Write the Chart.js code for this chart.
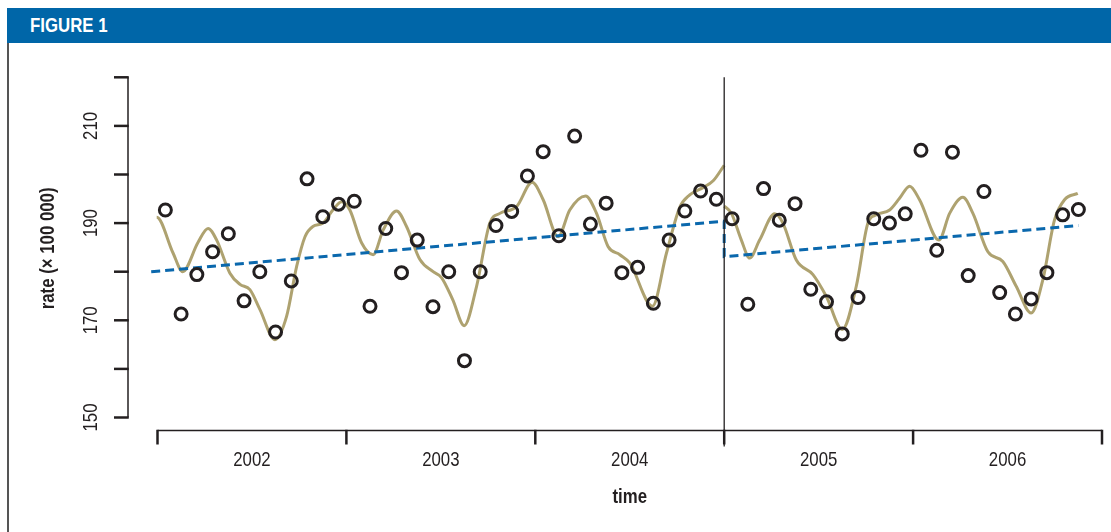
<!DOCTYPE html>
<html>
<head>
<meta charset="utf-8">
<script src="https://cdn.jsdelivr.net/npm/chart.js@4.4.1/dist/chart.umd.min.js"></script>
<style>
  body { margin: 0; background: #fff; width: 1111px; height: 532px; overflow: hidden; position: relative; }
  #header { position: absolute; left: 7px; top: 8px; right: 0; height: 35px; background: #0066a8; }
  #header span { position: absolute; left: 23px; top: 6px; color: #fff; font: bold 20px 'Liberation Sans', Arial, sans-serif;
    transform: scaleX(0.84); transform-origin: 0 50%; white-space: nowrap; }
  #frame { position: absolute; left: 7px; top: 43px; width: 2px; bottom: 0; background: #555; }
  #wrap { position: absolute; left: 0; top: 0; width: 1111px; height: 532px; }
</style>
</head>
<body>
<div id="header"><span>FIGURE 1</span></div>
<div id="frame"></div>
<div id="wrap"><canvas id="chart" width="1111" height="532"></canvas></div>
<script>
// Monthly rates, Jan 2002 .. Nov 2006 (x = month index + 0.5)
const rates2002 = [192.7, 171.3, 179.4, 184.1, 187.8, 174.0, 180.0, 167.6, 178.1, 199.1, 191.3, 193.9];
const rates2003 = [194.5, 172.9, 188.9, 179.8, 186.5, 172.8, 180.0, 161.7, 180.0, 189.5, 192.4, 199.7];
const rates2004 = [204.7, 187.4, 207.9, 189.8, 194.1, 179.8, 180.9, 173.5, 186.5, 192.5, 196.6, 194.9];
const rates2005 = [190.9, 173.3, 197.1, 190.6, 194.0, 176.4, 173.8, 167.2, 174.7, 190.9, 190.0, 191.9];
const rates2006 = [205.0, 184.4, 204.6, 179.2, 196.5, 175.7, 171.3, 174.4, 179.8, 191.7, 192.8];

// Smoothed fit, before the 2005 intervention (months since Jan 2002)
const fitBeforeX = [-0.37, -0.05, 0.98, 1.6, 2.57, 3.21, 3.76, 4.6, 5.24, 5.87, 6.51, 7.46, 8.2, 8.84, 9.37, 9.87,
  10.51, 11.14, 11.7, 12.22, 12.97, 13.7, 14.34, 15.19, 15.82, 16.67, 17.51, 18.04, 18.76, 19.48, 20.27, 21.11,
  21.75, 22.81, 23.8, 24.5, 25.45, 26.19, 27.19, 27.89, 28.62, 29.37, 30.0, 31.44, 32.33, 33.17, 33.81, 34.65,
  35.3, 36.0];
const fitBeforeY = [191.0, 191.2, 183.9, 180.0, 186.0, 188.9, 186.5, 179.7, 177.4, 176.3, 172.2, 166.0, 170.8, 181.1, 187.2, 189.3,
  190.0, 192.7, 194.4, 192.7, 185.9, 183.5, 188.6, 192.5, 189.3, 182.5, 180.0, 178.8, 174.2, 168.9, 177.0, 190.0,
  192.0, 193.4, 198.4, 194.8, 187.2, 192.7, 195.6, 192.0, 185.2, 183.5, 181.8, 172.9, 183.8, 193.2, 195.8, 197.3,
  198.7, 201.9];
// Smoothed fit, after the intervention
const fitAfterX = [36.0, 36.46, 37.09, 37.62, 38.25, 39.21, 39.73, 40.58, 41.64, 42.49, 43.5, 44.39, 45.13, 45.66,
  46.51, 47.14, 47.78, 48.41, 49.64, 50.32, 51.16, 51.8, 52.75, 53.7, 54.55, 55.5, 56.24, 56.98, 57.62, 58.46];
const fitAfterY = [193.5, 192.0, 186.5, 182.8, 186.5, 191.9, 190.0, 182.4, 179.4, 174.9, 168.1, 177.0, 190.0, 191.7,
  192.7, 195.1, 197.6, 194.8, 186.5, 192.0, 195.3, 192.0, 184.1, 182.1, 177.0, 171.5, 178.3, 190.6, 194.8, 196.1];

// Linear trend (segmented at Jan 2005)
const trendX = [-0.4, 36.0, 36.0, 58.5];
const trendY = [180.0, 190.4, 183.1, 189.5];

const yTicks = [150, 160, 170, 180, 190, 200, 210, 220];
const yTickLabels = [150, 170, 190, 210];
const yearBounds = [0, 12, 24, 36, 48, 60];
const yearLabels = ['2002', '2003', '2004', '2005', '2006'];
const interventionMonth = 36;

const allRates = [...rates2002, ...rates2003, ...rates2004, ...rates2005, ...rates2006];
const pointsData = allRates.map((v, i) => ({ x: i + 0.5, y: v }));
const toXY = (xs, ys) => xs.map((x, i) => ({ x: x, y: ys[i] }));

const ink = '#231f20';
const narrow = 0.8; // horizontal squeeze to mimic a narrow face

// draw narrow text centred at (px, py), optionally rotated
const narrowText = (ctx, text, px, py, font, angle) => {
  ctx.save();
  ctx.font = font;
  ctx.translate(px, py);
  if (angle) ctx.rotate(angle);
  ctx.scale(narrow, 1);
  ctx.fillText(text, 0, 0);
  ctx.restore();
};

// R-style detached axes, drawn with the chart's own scales
const axesPlugin = {
  id: 'rAxes',
  afterDatasetsDraw(chart) {
    const { ctx, scales: { x, y } } = chart;
    const axisX = 128;
    const axisY = 430.5;
    const plain = "21px 'Liberation Sans', Arial, sans-serif";
    const bold = "bold 21px 'Liberation Sans', Arial, sans-serif";
    ctx.save();
    ctx.strokeStyle = ink;
    ctx.fillStyle = ink;
    ctx.textAlign = 'center';
    ctx.textBaseline = 'middle';

    // intervention line
    const ix = x.getPixelForValue(interventionMonth);
    ctx.lineWidth = 1.3;
    ctx.beginPath();
    ctx.moveTo(ix, y.getPixelForValue(220));
    ctx.lineTo(ix, axisY + 16);
    ctx.stroke();

    // y axis
    ctx.lineWidth = 1.5;
    ctx.beginPath();
    ctx.moveTo(axisX, y.getPixelForValue(220));
    ctx.lineTo(axisX, y.getPixelForValue(150));
    ctx.stroke();
    ctx.lineWidth = 2.5;
    yTicks.forEach(v => {
      const py = y.getPixelForValue(v);
      ctx.beginPath();
      ctx.moveTo(axisX - 14, py);
      ctx.lineTo(axisX + 0.75, py);
      ctx.stroke();
    });
    yTickLabels.forEach(v => {
      narrowText(ctx, String(v), 91, y.getPixelForValue(v), plain, -Math.PI / 2);
    });
    narrowText(ctx, 'rate (\u00d7 100 000)', 48,
      (y.getPixelForValue(150) + y.getPixelForValue(220)) / 2 + 1, bold, -Math.PI / 2);

    // x axis
    ctx.lineWidth = 1.5;
    ctx.beginPath();
    ctx.moveTo(x.getPixelForValue(0), axisY);
    ctx.lineTo(x.getPixelForValue(60), axisY);
    ctx.stroke();
    ctx.lineWidth = 2.5;
    yearBounds.forEach(m => {
      const px = x.getPixelForValue(m);
      ctx.beginPath();
      ctx.moveTo(px, axisY - 0.75);
      ctx.lineTo(px, axisY + 14);
      ctx.stroke();
    });
    yearLabels.forEach((lab, i) => {
      const px = x.getPixelForValue((yearBounds[i] + yearBounds[i + 1]) / 2);
      narrowText(ctx, lab, px, 460, plain);
    });
    narrowText(ctx, 'time', x.getPixelForValue(30), 497, bold);
    ctx.restore();
  }
};

new Chart(document.getElementById('chart'), {
  type: 'scatter',
  data: {
    datasets: [
      {
        label: 'observed',
        data: pointsData,
        pointRadius: 6,
        pointBorderWidth: 3,
        pointBorderColor: ink,
        pointBackgroundColor: 'rgba(0,0,0,0)',
        showLine: false,
        clip: false
      },
      {
        label: 'trend',
        data: toXY(trendX, trendY),
        showLine: true,
        borderColor: '#0a68ad',
        borderWidth: 3,
        borderDash: [9, 5],
        pointRadius: 0,
        tension: 0,
        clip: false
      },
      {
        label: 'fit before',
        data: toXY(fitBeforeX, fitBeforeY),
        showLine: true,
        borderColor: '#aea270',
        borderWidth: 3,
        pointRadius: 0,
        cubicInterpolationMode: 'monotone',
        clip: false
      },
      {
        label: 'fit after',
        data: toXY(fitAfterX, fitAfterY),
        showLine: true,
        borderColor: '#aea270',
        borderWidth: 3,
        pointRadius: 0,
        cubicInterpolationMode: 'monotone',
        clip: false
      }
    ]
  },
  options: {
    responsive: false,
    animation: false,
    layout: { padding: { left: 157.5, right: 9, top: 77.3, bottom: 114.5 } },
    plugins: { legend: { display: false }, tooltip: { enabled: false } },
    scales: {
      x: { type: 'linear', min: 0, max: 60, display: false },
      y: { type: 'linear', min: 150, max: 220, display: false }
    }
  },
  plugins: [axesPlugin]
});
</script>
</body>
</html>
